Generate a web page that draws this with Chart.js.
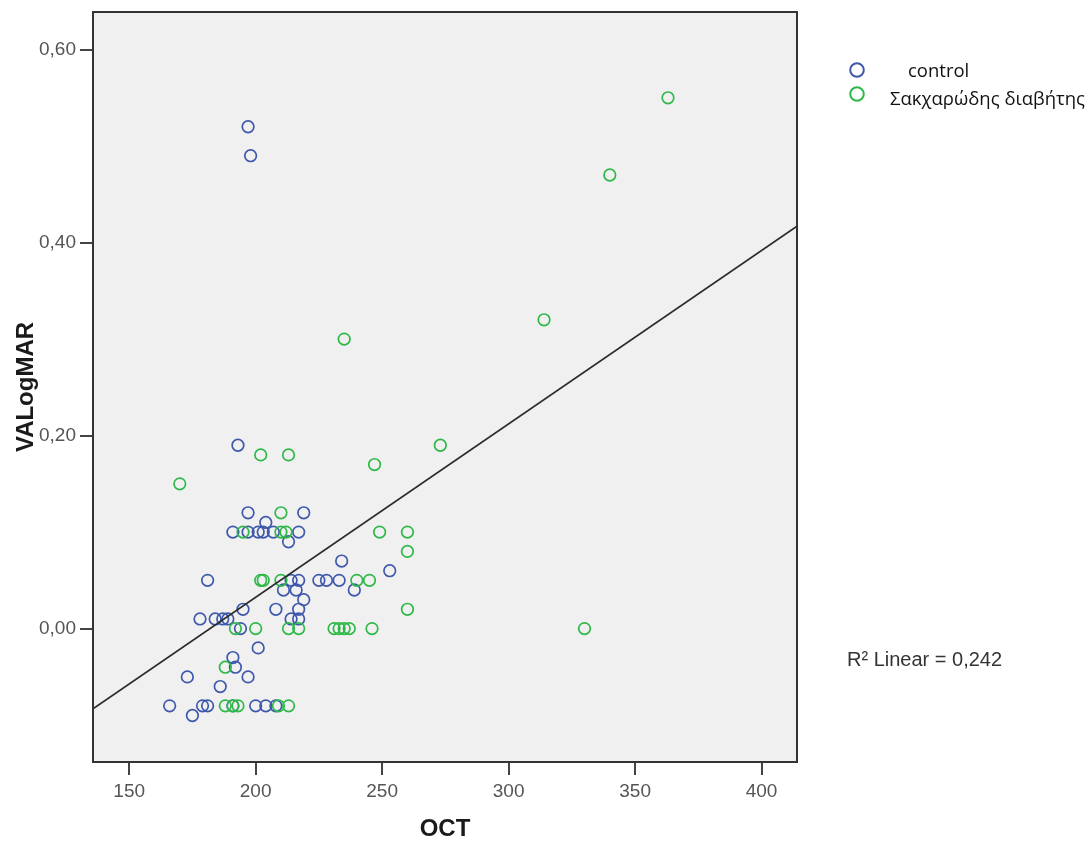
<!DOCTYPE html>
<html>
<head>
<meta charset="utf-8">
<script src="https://cdn.jsdelivr.net/npm/chart.js@4.4.1/dist/chart.umd.min.js"></script>
<style>
  html, body { margin: 0; padding: 0; background: #ffffff; }
  #wrap { width: 1091px; height: 841px; position: relative; }
</style>
</head>
<body>
<div id="wrap"><canvas id="c" width="1091" height="841"></canvas></div>
<script>
// Control group: OCT thickness and visual acuity (logMAR)
const controlOCT = [197, 198, 193, 197, 219, 204, 191, 197, 201, 203, 207, 217, 213, 234, 253,
  181, 214, 217, 225, 228, 233, 211, 216, 239, 219, 195, 208, 217, 178, 184, 187, 189, 214, 217,
  194, 201, 191, 192, 173, 197, 186, 166, 179, 181, 191, 200, 204, 208, 175];
const controlVA = [0.52, 0.49, 0.19, 0.12, 0.12, 0.11, 0.10, 0.10, 0.10, 0.10, 0.10, 0.10, 0.09, 0.07, 0.06,
  0.05, 0.05, 0.05, 0.05, 0.05, 0.05, 0.04, 0.04, 0.04, 0.03, 0.02, 0.02, 0.02, 0.01, 0.01, 0.01, 0.01, 0.01, 0.01,
  0.00, -0.02, -0.03, -0.04, -0.05, -0.05, -0.06, -0.08, -0.08, -0.08, -0.08, -0.08, -0.08, -0.08, -0.09];

// Diabetes group
const diabetesOCT = [363, 340, 314, 235, 273, 202, 213, 247, 170, 210, 195, 210, 212, 249, 260, 260,
  202, 203, 210, 240, 245, 260, 192, 200, 213, 217, 231, 233, 235, 237, 246, 330, 188, 188, 191, 193, 209, 213];
const diabetesVA = [0.55, 0.47, 0.32, 0.30, 0.19, 0.18, 0.18, 0.17, 0.15, 0.12, 0.10, 0.10, 0.10, 0.10, 0.10, 0.08,
  0.05, 0.05, 0.05, 0.05, 0.05, 0.02, 0.00, 0.00, 0.00, 0.00, 0.00, 0.00, 0.00, 0.00, 0.00, 0.00, -0.04,
  -0.08, -0.08, -0.08, -0.08, -0.08];

// Linear fit over all cases, end points at the axis limits
const fitOCT = [135.7, 414.0];
const fitVA = [-0.083, 0.417];

// Axis ranges and ticks
const xRange = [135.7, 414.0];
const yRange = [-0.1382, 0.6389];
const xTicks = [150, 200, 250, 300, 350, 400];
const yTicks = [0.00, 0.20, 0.40, 0.60];

const seriesNames = ['control', 'Σακχαρώδης διαβήτης'];
const seriesColors = ['#3E58AC', '#2EB848'];
const fitLabel = 'R² Linear = 0,242';
const xTitle = 'OCT';
const yTitle = 'VALogMAR';

const tickFont = { family: "'Liberation Sans', Arial, sans-serif", size: 19 };
const titleFont = { family: "'Liberation Sans', Arial, sans-serif", size: 24, weight: 'bold', lineHeight: 1 };

const toPoints = (xs, ys) => xs.map((x, i) => ({ x: x, y: ys[i] }));

// Plot panel background and frame
const panelPlugin = {
  id: 'panel',
  beforeDatasetsDraw(chart) {
    const a = chart.chartArea, ctx = chart.ctx;
    ctx.save();
    ctx.fillStyle = '#F0F0F0';
    ctx.fillRect(a.left, a.top, a.right - a.left, a.bottom - a.top);
    ctx.restore();
  },
  afterDatasetsDraw(chart) {
    const a = chart.chartArea, ctx = chart.ctx;
    ctx.save();
    ctx.strokeStyle = '#333333';
    ctx.lineWidth = 2;
    ctx.strokeRect(a.left, a.top, a.right - a.left, a.bottom - a.top);
    ctx.restore();
  }
};

// Group legend and fit annotation in the right margin
const sidePlugin = {
  id: 'side',
  afterDraw(chart) {
    const a = chart.chartArea, ctx = chart.ctx;
    const gx = a.right + 60;
    ctx.save();
    // legend text size fitted to the longer label
    let size = 18;
    ctx.font = size + "px 'Open Sans', 'Noto Sans', sans-serif";
    const w = ctx.measureText(seriesNames[1]).width;
    size = size * 195 / w;
    ctx.font = size.toFixed(2) + "px 'Open Sans', 'Noto Sans', sans-serif";
    ctx.textBaseline = 'middle';
    ctx.fillStyle = '#111111';
    const rows = [a.top + 58, a.top + 82];
    seriesNames.forEach((name, i) => {
      ctx.beginPath();
      ctx.lineWidth = 2;
      ctx.strokeStyle = seriesColors[i];
      ctx.arc(gx, rows[i], 6.8, 0, Math.PI * 2);
      ctx.stroke();
      ctx.fillText(name, i === 0 ? gx + 51 : gx + 33, rows[i] + (i === 0 ? 2 : 6));
    });
    ctx.font = "20px 'Liberation Sans', Arial, sans-serif";
    ctx.fillStyle = '#333333';
    ctx.fillText(fitLabel, a.right + 50, a.top + 648);
    ctx.restore();
  }
};

new Chart(document.getElementById('c'), {
  type: 'scatter',
  data: {
    datasets: [
      {
        type: 'line',
        label: 'fit',
        data: toPoints(fitOCT, fitVA),
        borderColor: '#2b2b2b',
        borderWidth: 1.7,
        pointRadius: 0,
        fill: false,
        order: 0
      },
      {
        label: seriesNames[1],
        data: toPoints(diabetesOCT, diabetesVA),
        pointStyle: 'circle',
        pointRadius: 5.8,
        borderWidth: 1.7,
        borderColor: seriesColors[1],
        backgroundColor: 'rgba(0,0,0,0)',
        order: 1
      },
      {
        label: seriesNames[0],
        data: toPoints(controlOCT, controlVA),
        pointStyle: 'circle',
        pointRadius: 5.8,
        borderWidth: 1.7,
        borderColor: seriesColors[0],
        backgroundColor: 'rgba(0,0,0,0)',
        order: 2
      }
    ]
  },
  options: {
    responsive: false,
    animation: false,
    devicePixelRatio: 1,
    layout: { padding: { left: 0, top: 12, right: 294, bottom: 0 } },
    plugins: { legend: { display: false }, tooltip: { enabled: false } },
    scales: {
      x: {
        type: 'linear',
        position: 'bottom',
        min: xRange[0],
        max: xRange[1],
        afterBuildTicks: s => { s.ticks = xTicks.map(v => ({ value: v })); },
        afterFit: s => { s.height = 79; s.paddingLeft = 0; s.paddingRight = 0; },
        grid: { drawOnChartArea: false, drawTicks: true, tickLength: 13, color: '#444444', lineWidth: 2 },
        border: { display: false },
        ticks: { color: '#555555', font: tickFont, padding: 5, autoSkip: false, maxRotation: 0,
          callback: v => String(v) },
        title: { display: true, text: xTitle, color: '#1a1a1a', font: titleFont, padding: { top: 0, bottom: 0 } }
      },
      y: {
        type: 'linear',
        position: 'left',
        min: yRange[0],
        max: yRange[1],
        afterBuildTicks: s => { s.ticks = yTicks.map(v => ({ value: v })); },
        afterFit: s => { s.width = 93; s.paddingTop = 0; s.paddingBottom = 0; },
        grid: { drawOnChartArea: false, drawTicks: true, tickLength: 13, color: '#444444', lineWidth: 2 },
        border: { display: false },
        ticks: { color: '#555555', font: tickFont, padding: 4, autoSkip: false,
          callback: v => v.toFixed(2).replace('.', ',') },
        title: { display: true, text: yTitle, color: '#1a1a1a', font: titleFont, padding: { top: 14, bottom: 0 } }
      }
    }
  },
  plugins: [panelPlugin, sidePlugin]
});
</script>
</body>
</html>
